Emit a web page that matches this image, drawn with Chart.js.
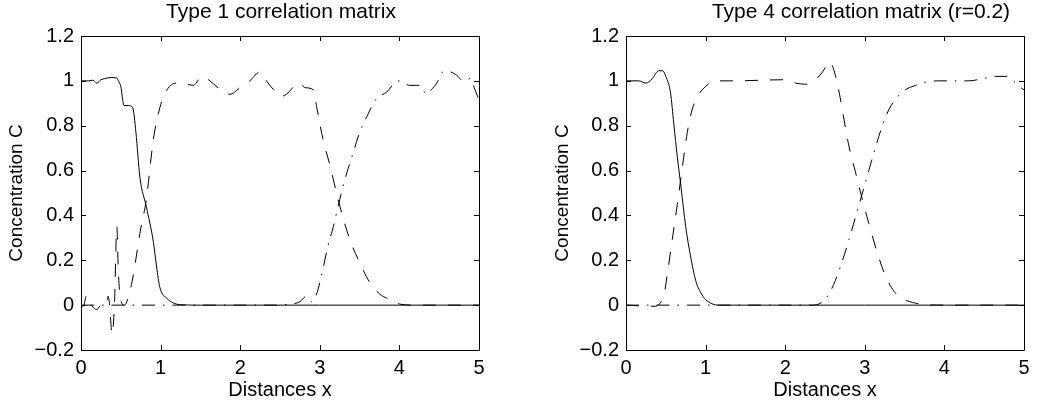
<!DOCTYPE html>
<html>
<head>
<meta charset="utf-8">
<script src="https://cdn.jsdelivr.net/npm/chart.js"></script>
<style>
  html, body { margin: 0; padding: 0; background: #fff; }
  #wrap { position: relative; width: 1039px; height: 409px; }
  .panel { position: absolute; top: 0; height: 409px; }
</style>
</head>
<body>
<div id="wrap">
  <div class="panel" style="left:0;width:519px"><canvas id="leftChart" width="519" height="409"></canvas></div>
  <div class="panel" style="left:519px;width:520px"><canvas id="rightChart" width="520" height="409"></canvas></div>
</div>
<script>
// Tick values and labels (shared by both panels)
const xTickValues = [0, 1, 2, 3, 4, 5];
const xTickLabels = ['0', '1', '2', '3', '4', '5'];
const yTickValues = [-0.2, 0, 0.2, 0.4, 0.6, 0.8, 1, 1.2];
const yTickLabels = ['\u22120.2', '0', '0.2', '0.4', '0.6', '0.8', '1', '1.2'];

// Type 1 correlation matrix - solid curve
const t1SolidX = [0, 0.1, 0.15, 0.2, 0.25, 0.3, 0.38, 0.45, 0.47, 0.5, 0.54, 0.6, 0.65, 0.69, 0.74, 0.82, 0.91, 0.95, 0.99, 1.08, 1.16, 1.24, 1.5, 2, 3, 4, 5];
const t1SolidY = [1.0, 1.0, 1.003, 0.99, 1.005, 1.01, 1.015, 1.012, 1.0, 0.975, 0.89, 0.89, 0.88, 0.77, 0.57, 0.44, 0.28, 0.17, 0.08, 0.03, 0.01, 0.002, 0, 0, 0, 0, 0];
// Type 1 - dashed curve
const t1DashX = [0, 0.03, 0.07, 0.13, 0.2, 0.25, 0.32, 0.34, 0.36, 0.39, 0.42, 0.45, 0.47, 0.51, 0.54, 0.57, 0.62, 0.66, 0.74, 0.82, 0.91, 0.99, 1.08, 1.2, 1.33, 1.41, 1.52, 1.62, 1.75, 1.87, 2.0, 2.12, 2.25, 2.33, 2.42, 2.5, 2.58, 2.69, 2.75, 2.81, 2.92, 2.96, 3.04, 3.13, 3.21, 3.3, 3.38, 3.5, 3.63, 3.75, 3.88, 4.0, 4.2, 5];
const t1DashY = [0, -0.005, 0.045, 0, -0.02, 0, 0, 0.04, 0, -0.13, 0, 0.35, 0.14, 0.01, 0, 0.01, 0.07, 0.14, 0.32, 0.47, 0.74, 0.88, 0.96, 0.99, 0.985, 0.98, 1.02, 1.0, 0.96, 0.94, 0.97, 1.0, 1.04, 1.0, 0.96, 0.93, 0.94, 0.98, 0.99, 0.97, 0.96, 0.885, 0.74, 0.62, 0.5, 0.38, 0.29, 0.19, 0.1, 0.05, 0.025, 0.005, 0, 0];
// Type 1 - dash-dot curve
const t1DotX = [0, 2.5, 2.63, 2.75, 2.83, 2.9, 2.96, 3.02, 3.1, 3.17, 3.25, 3.34, 3.42, 3.5, 3.59, 3.71, 3.84, 3.94, 4.0, 4.13, 4.26, 4.34, 4.4, 4.47, 4.55, 4.63, 4.72, 4.8, 4.89, 4.95, 5.0];
const t1DotY = [0, 0, 0.005, 0.015, 0.04, 0.015, 0.05, 0.13, 0.26, 0.35, 0.47, 0.59, 0.68, 0.77, 0.84, 0.92, 0.95, 0.99, 1.0, 0.98, 0.98, 0.94, 0.96, 0.99, 1.04, 1.04, 1.025, 1.0, 1.01, 0.96, 0.915];

// Type 4 correlation matrix (r=0.2) - solid curve
const t4SolidX = [0, 0.16, 0.25, 0.33, 0.41, 0.46, 0.5, 0.56, 0.6, 0.645, 0.69, 0.75, 0.81, 0.875, 0.94, 1.0, 1.08, 1.17, 2, 3, 4, 5];
const t4SolidY = [1.0, 1.0, 0.99, 1.01, 1.045, 1.045, 1.02, 0.945, 0.81, 0.66, 0.53, 0.35, 0.22, 0.11, 0.055, 0.025, 0.006, 0, 0, 0, 0, 0];
// Type 4 - dashed curve
const t4DashX = [0, 0.37, 0.44, 0.48, 0.52, 0.58, 0.645, 0.71, 0.77, 0.83, 0.9, 1.0, 1.13, 1.34, 2.0, 2.13, 2.26, 2.38, 2.47, 2.56, 2.61, 2.68, 2.74, 2.8, 2.885, 2.97, 3.05, 3.16, 3.26, 3.37, 3.47, 3.6, 3.72, 4, 5];
const t4DashY = [0, -0.005, 0.015, 0.05, 0.14, 0.29, 0.45, 0.62, 0.77, 0.87, 0.93, 0.975, 1.0, 1.0, 1.005, 0.99, 0.985, 1.005, 1.04, 1.085, 1.05, 0.945, 0.825, 0.71, 0.59, 0.47, 0.365, 0.23, 0.13, 0.06, 0.03, 0.012, 0.004, 0, 0];
// Type 4 - dash-dot curve
const t4DotX = [0, 2.34, 2.47, 2.55, 2.63, 2.72, 2.8, 2.885, 2.97, 3.05, 3.14, 3.22, 3.3, 3.39, 3.51, 3.64, 3.77, 3.93, 4.31, 4.48, 4.64, 4.77, 4.85, 4.94, 5.0];
const t4DotY = [0, 0, 0.015, 0.05, 0.11, 0.2, 0.29, 0.395, 0.5, 0.6, 0.71, 0.8, 0.87, 0.92, 0.96, 0.98, 0.995, 1.0, 1.0, 1.01, 1.02, 1.02, 1.005, 0.975, 0.96];

const FONT = "'Liberation Sans', Arial, Helvetica, sans-serif";

function toPoints(xs, ys) {
    return xs.map((x, i) => ({ x: x, y: ys[i] }));
}

function lineSet(xs, ys, dash) {
    return {
        data: toPoints(xs, ys),
        borderColor: '#000',
        borderWidth: 1,
        borderDash: dash,
        pointRadius: 0,
        showLine: true,
        fill: false,
        cubicInterpolationMode: 'monotone'
    };
}

// Box around the plot area with inward ticks on all four sides, plus the panel title
const matlabFrame = {
    id: 'matlabFrame',
    afterDraw(chart, args, opts) {
        const ctx = chart.ctx;
        const a = chart.chartArea;
        const xs = chart.scales.x, ys = chart.scales.y;
        ctx.save();
        ctx.strokeStyle = '#000';
        ctx.lineWidth = 1;
        ctx.beginPath();
        ctx.rect(Math.round(a.left) + 0.5, Math.round(a.top) + 0.5, Math.round(a.right - a.left), Math.round(a.bottom - a.top));
        const len = 5;
        xTickValues.forEach(v => {
            const px = Math.round(xs.getPixelForValue(v)) + 0.5;
            ctx.moveTo(px, a.bottom); ctx.lineTo(px, a.bottom - len);
            ctx.moveTo(px, a.top); ctx.lineTo(px, a.top + len);
        });
        yTickValues.forEach(v => {
            const py = Math.round(ys.getPixelForValue(v)) + 0.5;
            ctx.moveTo(a.left, py); ctx.lineTo(a.left + len, py);
            ctx.moveTo(a.right, py); ctx.lineTo(a.right - len, py);
        });
        ctx.stroke();

        ctx.fillStyle = '#000';
        ctx.font = '21px ' + FONT;
        ctx.textAlign = 'center';
        ctx.textBaseline = 'middle';
        ctx.fillText(opts.text, opts.x, opts.y);
        ctx.restore();
    }
};

function makeChart(id, cfg) {
    const W = document.getElementById(id).width;
    return new Chart(document.getElementById(id), {
        type: 'scatter',
        data: { datasets: cfg.datasets },
        options: {
            responsive: false,
            animation: false,
            devicePixelRatio: 1,
            layout: { padding: { left: 0, right: W - cfg.plotRight, top: 36, bottom: 0 } },
            plugins: {
                legend: { display: false },
                tooltip: { enabled: false },
                matlabFrame: { text: cfg.title, x: cfg.titleX, y: 12 }
            },
            scales: {
                x: {
                    type: 'linear', min: 0, max: 5,
                    afterBuildTicks: s => { s.ticks = xTickValues.map(v => ({ value: v })); },
                    afterFit: s => { s.height = 59; },
                    grid: { display: false, drawTicks: false },
                    border: { display: false },
                    ticks: {
                        color: '#000', padding: 6, maxRotation: 0,
                        font: { family: FONT, size: 20 },
                        callback: (v, i) => xTickLabels[i]
                    },
                    title: {
                        display: true, text: 'Distances x', color: '#000',
                        font: { family: FONT, size: 20 },
                        padding: { top: 0, bottom: 7 }
                    }
                },
                y: {
                    type: 'linear', min: -0.2, max: 1.2,
                    afterBuildTicks: s => { s.ticks = yTickValues.map(v => ({ value: v })); },
                    afterFit: s => { s.width = cfg.plotLeft; },
                    grid: { display: false, drawTicks: false },
                    border: { display: false },
                    ticks: {
                        color: '#000', padding: 7,
                        font: { family: FONT, size: 20 },
                        callback: (v, i) => yTickLabels[i]
                    },
                    title: {
                        display: true, text: 'Concentration C', color: '#000',
                        font: { family: FONT, size: 19 },
                        padding: { top: cfg.yTitlePad, bottom: 0 }
                    }
                }
            }
        },
        plugins: [matlabFrame]
    });
}

makeChart('leftChart', {
    title: 'Type 1 correlation matrix', titleX: 281,
    plotLeft: 81, plotRight: 479, yTitlePad: 5,
    datasets: [
        lineSet(t1SolidX, t1SolidY, []),
        lineSet(t1DashX, t1DashY, [13, 12]),
        lineSet(t1DotX, t1DotY, [13, 8, 1.5, 8])
    ]
});

makeChart('rightChart', {
    title: 'Type 4 correlation matrix (r=0.2)', titleX: 342,
    plotLeft: 107, plotRight: 505, yTitlePad: 32,
    datasets: [
        lineSet(t4SolidX, t4SolidY, []),
        lineSet(t4DashX, t4DashY, [13, 12]),
        lineSet(t4DotX, t4DotY, [13, 8, 1.5, 8])
    ]
});
</script>
</body>
</html>
